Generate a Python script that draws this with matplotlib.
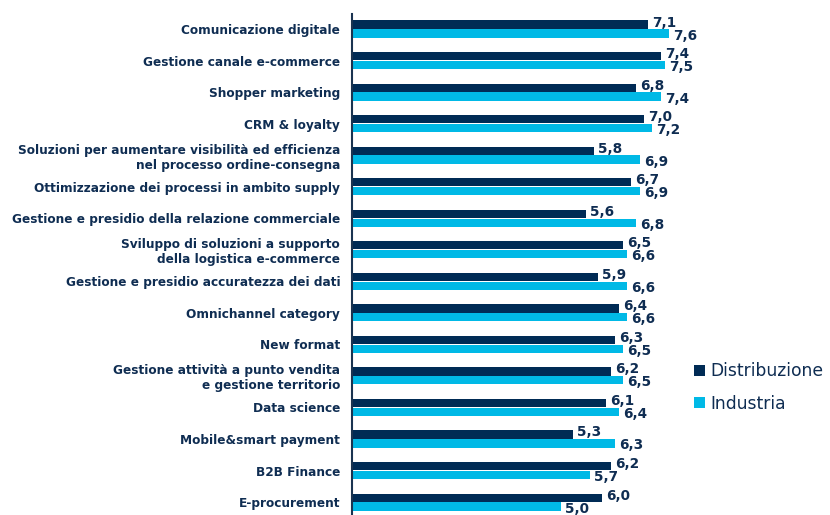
import matplotlib
matplotlib.use("Agg")
import matplotlib.pyplot as plt
import numpy as np

# dati del grafico
categorie = [
    "Comunicazione digitale",
    "Gestione canale e-commerce",
    "Shopper marketing",
    "CRM & loyalty",
    "Soluzioni per aumentare visibilità ed efficienza\nnel processo ordine-consegna",
    "Ottimizzazione dei processi in ambito supply",
    "Gestione e presidio della relazione commerciale",
    "Sviluppo di soluzioni a supporto\ndella logistica e-commerce",
    "Gestione e presidio accuratezza dei dati",
    "Omnichannel category",
    "New format",
    "Gestione attività a punto vendita\ne gestione territorio",
    "Data science",
    "Mobile&smart payment",
    "B2B Finance",
    "E-procurement",
]
distribuzione = [7.1, 7.4, 6.8, 7.0, 5.8, 6.7, 5.6, 6.5, 5.9, 6.4, 6.3, 6.2, 6.1, 5.3, 6.2, 6.0]
industria = [7.6, 7.5, 7.4, 7.2, 6.9, 6.9, 6.8, 6.6, 6.6, 6.6, 6.5, 6.5, 6.4, 6.3, 5.7, 5.0]
serie = ["Distribuzione", "Industria"]

NAVY = "#002b55"
CYAN = "#00b9e6"
TXT = "#0f2d52"

fig = plt.figure(figsize=(8.3, 5.15), dpi=100)
ax = fig.add_axes([352 / 830, 0, 333.6 / 830, 501 / 515])

y = np.arange(len(categorie))
h = 0.26
off = 0.14
ax.barh(y - off, distribuzione, height=h, color=NAVY, label=serie[0])
ax.barh(y + off, industria, height=h, color=CYAN, label=serie[1])

for i in range(len(categorie)):
    ax.annotate(f"{distribuzione[i]:.1f}".replace(".", ","), (distribuzione[i], y[i] - off),
                xytext=(3, 1.5), textcoords="offset points", ha="left", va="center",
                fontsize=9.8, fontweight="bold", color=TXT)
    ax.annotate(f"{industria[i]:.1f}".replace(".", ","), (industria[i], y[i] + off),
                xytext=(3, -1.5), textcoords="offset points", ha="left", va="center",
                fontsize=9.8, fontweight="bold", color=TXT)

ax.set_xlim(0, 8)
ax.set_ylim(15.41, -0.476)
ax.set_yticks(y)
ax.set_yticklabels(categorie, fontsize=8.7, fontweight="bold", color=TXT)
ax.tick_params(axis="y", length=0, pad=8.5)
ax.set_xticks([])
for s in ["top", "right", "bottom"]:
    ax.spines[s].set_visible(False)
ax.spines["left"].set_color("#1a3350")
ax.spines["left"].set_linewidth(1.5)

fig.legend(loc="upper left", bbox_to_anchor=(679 / 830, 1 - 347 / 515), frameon=False,
           fontsize=12.3, handlelength=0.6, handleheight=0.6, handletextpad=0.35,
           labelspacing=0.85, labelcolor=TXT)

fig.savefig("out.png", dpi=100)
